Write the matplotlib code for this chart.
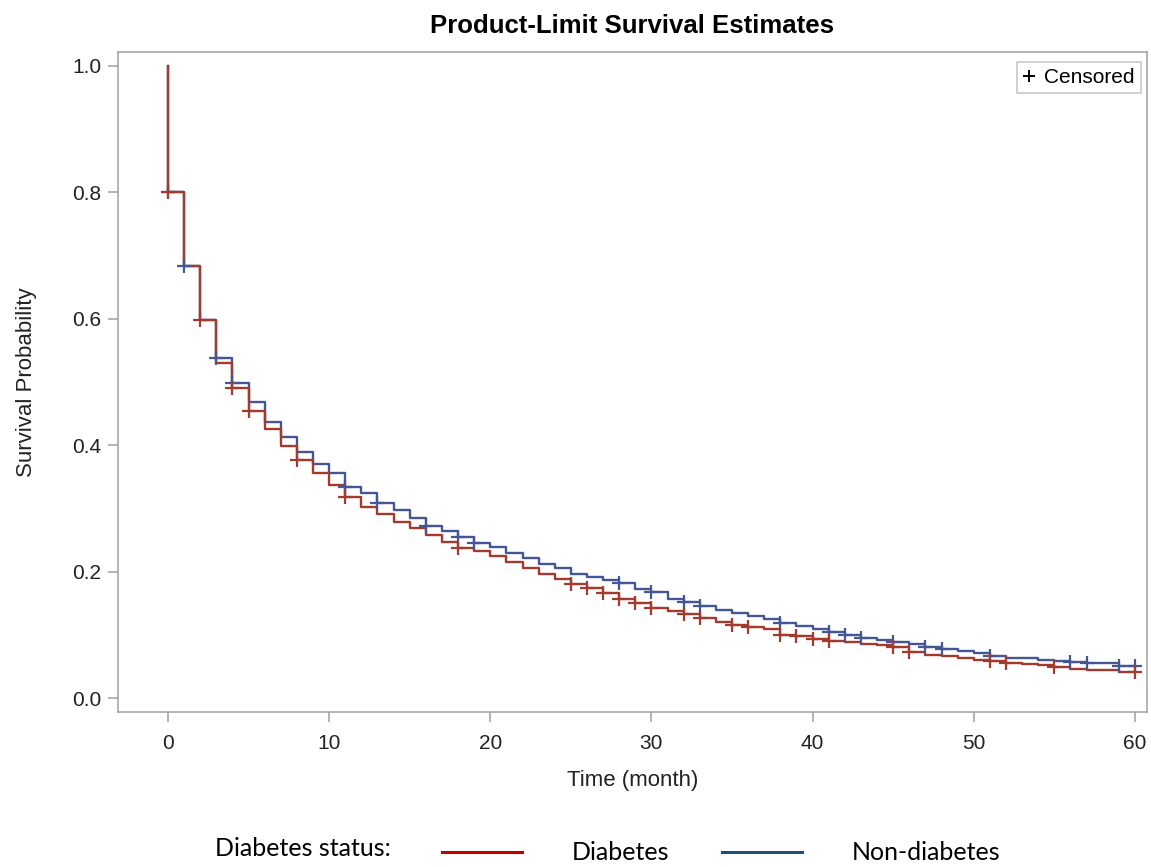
import matplotlib
matplotlib.use("Agg")
import matplotlib.pyplot as plt
from matplotlib.lines import Line2D
from matplotlib.ticker import FormatStrFormatter

# survival estimate for each month (value held on [t, t+1))
months = list(range(0, 61))

surv_nondiab = [0.800, 0.684, 0.598, 0.538, 0.498, 0.468, 0.437, 0.413, 0.390, 0.371,
                0.356, 0.334, 0.324, 0.309, 0.297, 0.285, 0.272, 0.264, 0.255, 0.245,
                0.239, 0.229, 0.221, 0.212, 0.206, 0.197, 0.192, 0.187, 0.182, 0.172,
                0.168, 0.156, 0.152, 0.145, 0.139, 0.134, 0.130, 0.125, 0.119, 0.114,
                0.109, 0.104, 0.100, 0.095, 0.092, 0.088, 0.086, 0.081, 0.077, 0.075,
                0.071, 0.066, 0.064, 0.063, 0.061, 0.059, 0.057, 0.056, 0.055, 0.051,
                0.051]

surv_diab = [0.800, 0.684, 0.598, 0.530, 0.490, 0.454, 0.426, 0.399, 0.376, 0.356,
             0.337, 0.318, 0.302, 0.291, 0.279, 0.269, 0.258, 0.247, 0.238, 0.232,
             0.224, 0.215, 0.206, 0.197, 0.188, 0.180, 0.174, 0.167, 0.157, 0.150,
             0.142, 0.137, 0.133, 0.126, 0.121, 0.115, 0.112, 0.109, 0.100, 0.098,
             0.094, 0.090, 0.089, 0.086, 0.084, 0.081, 0.073, 0.068, 0.066, 0.064,
             0.060, 0.059, 0.055, 0.054, 0.052, 0.049, 0.046, 0.045, 0.044, 0.041,
             0.041]

# months with censored observations
cens_diab = [0, 2, 4, 5, 8, 11, 18, 25, 26, 27, 28, 29, 30, 32, 33, 35, 36, 38, 39,
             40, 41, 45, 46, 51, 52, 55, 60]
cens_nondiab = [0, 1, 3, 4, 11, 13, 16, 18, 19, 28, 30, 32, 33, 38, 41, 42, 43, 45,
                47, 48, 51, 56, 57, 59, 60]

RED = "#A23A2E"
BLUE = "#445694"
GRID_GRAY = "#A0A0A0"

plt.rcParams['font.family'] = ['Liberation Sans', 'DejaVu Sans']

fig = plt.figure(figsize=(11.51, 8.67), dpi=100)
ax = fig.add_axes([118/1151, 1-712/867, (1147-118)/1151, (712-52)/867])

def km_curve(ax, surv, cens, color):
    xs = [0] + months
    ys = [1.0] + surv
    ax.step(xs, ys, where="post", color=color, lw=1.7, zorder=3)
    cy = [surv[months.index(t)] for t in cens]
    ax.plot(cens, cy, ls="none", marker="+", ms=10, mew=1.6, color=color, zorder=4)

km_curve(ax, surv_nondiab, cens_nondiab, BLUE)
km_curve(ax, surv_diab, cens_diab, RED)

ax.set_xlim(-3.1, 60.75)
ax.set_ylim(-0.022, 1.022)
ax.set_xticks(range(0, 61, 10))
ax.set_yticks([0.0, 0.2, 0.4, 0.6, 0.8, 1.0])
ax.yaxis.set_major_formatter(FormatStrFormatter("%.1f"))
for s in ax.spines.values():
    s.set_color(GRID_GRAY)
    s.set_linewidth(1.1)
ax.tick_params(axis="both", direction="out", length=7, width=1.1, color=GRID_GRAY,
               labelsize=15, labelcolor="#222222")
ax.tick_params(axis="x", pad=9)
ax.tick_params(axis="y", pad=5)

ax.set_xlabel("Time (month)", fontsize=16, color="#222222", labelpad=12)
ax.set_ylabel("Survival Probability", fontsize=16, color="#222222", labelpad=25)
ax.set_title("Product-Limit Survival Estimates", fontsize=18.5, fontweight="bold", pad=14)

cens_handle = Line2D([], [], ls="none", marker="+", ms=9, mew=1.4, color="black")
leg = ax.legend([cens_handle], ["Censored"], loc="upper right",
                bbox_to_anchor=(0.994, 0.985), borderaxespad=0, fontsize=15,
                handlelength=0.6, handletextpad=0.4, borderpad=0.3, fancybox=False,
                framealpha=1)
leg.get_frame().set_edgecolor("#C8C8C8")
leg.get_frame().set_linewidth(1.2)

# group legend below the plot
fig.text(215/1151, 1-848/867, "Diabetes status:", fontsize=18, family=["Lato", "DejaVu Sans"],
         va="center", ha="left")
grp_handles = [Line2D([], [], color="#C00000", lw=2.2), Line2D([], [], color="#1F4E79", lw=2.2)]
fig.legend(grp_handles, ["Diabetes", "Non-diabetes"], loc="center left",
           bbox_to_anchor=(442/1151, 1-853/867), ncol=2, frameon=False,
           prop={"family": ["Lato", "DejaVu Sans"], "size": 18},
           handlelength=3.2, handletextpad=2.0, columnspacing=2.1,
           borderpad=0, borderaxespad=0)

fig.savefig("out.png", dpi=100)
